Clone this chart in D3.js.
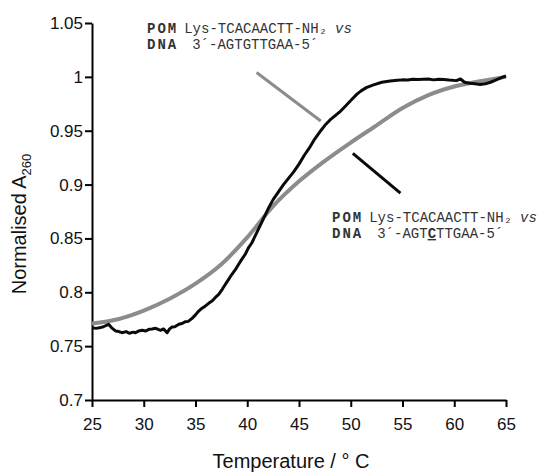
<!DOCTYPE html>
<html>
<head>
<meta charset="utf-8">
<script src="https://cdn.jsdelivr.net/npm/d3@7"></script>
<style>
  body { margin: 0; background: #fff; }
  svg { display: block; }
  .axis path, .axis line { stroke: #000; stroke-width: 2px; }
  .axis text { font-family: Arial, "Liberation Sans", sans-serif; font-size: 17px; fill: #111; }
  .title { font-family: Arial, "Liberation Sans", sans-serif; font-size: 20px; fill: #111; }
  .note { font-family: "Courier New", "Liberation Mono", monospace; font-size: 14px; fill: #333; }
</style>
</head>
<body>
<div id="chart"></div>
<script>
//svg size
var svgWidth = 557;
var svgHeight = 472;

//plot area in pixels
var margin = { top: 23, right: 51, bottom: 72, left: 92 };
var chartWidth = svgWidth - margin.left - margin.right;
var chartHeight = svgHeight - margin.top - margin.bottom;

//tick labels
var xTicks = [25, 30, 35, 40, 45, 50, 55, 60, 65];
var yTicks = [0.7, 0.75, 0.8, 0.85, 0.9, 0.95, 1, 1.05];

//matched duplex (grey, smooth)
var greyTemp = [25, 27.5, 30, 32.5, 35, 37.5, 40, 42.5, 45, 47.5, 50, 52.5, 55, 57.5, 60, 62.5, 65];
var greyAbs  = [0.771, 0.775, 0.783, 0.794, 0.808, 0.826, 0.851, 0.880, 0.903, 0.922, 0.939, 0.955, 0.971, 0.983, 0.991, 0.996, 1.000];

//mismatched duplex (black, noisy)
var blackTemp = [25.0, 25.4, 25.7, 26.1, 26.6, 26.9, 27.3, 27.6, 27.9, 28.3, 28.6, 29.0, 29.2, 29.5, 29.85,
  30.2, 30.5, 30.8, 31.14, 31.4, 31.62, 31.9, 32.26, 32.5, 32.74, 33.0, 33.39, 33.7, 34.03, 34.3, 34.67,
  35.0, 35.31, 35.6, 35.96, 36.3, 36.6, 36.9, 37.24, 37.6, 37.89, 38.2, 38.52, 38.85, 39.17, 39.5, 39.81,
  40.1, 40.45, 41.0, 41.5, 42.1, 42.5, 43.0, 43.5, 44.0, 44.5, 45.0, 45.5, 46.0, 46.5, 47.1, 47.5, 48.0,
  48.5, 49.0, 49.5, 50.0, 50.6, 51.0, 51.5, 52.2, 53.0, 53.8, 54.5, 55.0, 55.5, 56.0, 56.5, 57.0, 57.5,
  58.0, 58.5, 59.0, 59.5, 60.2, 60.6, 61.0, 61.5, 62.0, 62.5, 63.0, 63.5, 64.0, 64.5, 65.0];
var blackAbs = [0.767, 0.7665, 0.767, 0.768, 0.7703, 0.767, 0.764, 0.7635, 0.7625, 0.7635, 0.762, 0.763, 0.7625, 0.764, 0.7647,
  0.764, 0.7656, 0.766, 0.7666, 0.7655, 0.7647, 0.766, 0.7625, 0.766, 0.7678, 0.768, 0.7703, 0.771, 0.7727, 0.773, 0.7758,
  0.779, 0.7826, 0.785, 0.7873, 0.790, 0.7919, 0.795, 0.7981, 0.803, 0.8074, 0.812, 0.8167, 0.821, 0.826, 0.831, 0.8353,
  0.841, 0.846, 0.857, 0.867, 0.879, 0.886, 0.893, 0.900, 0.906, 0.912, 0.919, 0.927, 0.934, 0.942, 0.950, 0.955, 0.960,
  0.964, 0.968, 0.973, 0.978, 0.984, 0.987, 0.990, 0.9925, 0.995, 0.9962, 0.9968, 0.9972, 0.997, 0.9978, 0.9975, 0.9977, 0.998,
  0.9972, 0.9978, 0.9975, 0.997, 0.9965, 0.998, 0.995, 0.994, 0.9935, 0.993, 0.9935, 0.995, 0.997, 0.999, 1.001];

//annotation pointer lines, in data units [t1, a1, t2, a2]
var greyPointer = [40.9, 1.004, 47.1, 0.959];
var blackPointer = [50.2, 0.929, 54.8, 0.892];

var svg = d3.select("#chart")
  .append("svg")
  .attr("width", svgWidth)
  .attr("height", svgHeight);

var chartGroup = svg.append("g").attr("transform", `translate(${margin.left}, ${margin.top})`);

var xScale = d3.scaleLinear().domain([25, 65]).range([0, chartWidth]);
var yScale = d3.scaleLinear().domain([0.7, 1.05]).range([chartHeight, 0]);

//axes
var bottomAxis = d3.axisBottom(xScale).tickValues(xTicks).tickSize(7).tickSizeOuter(0).tickPadding(11).tickFormat(d3.format("d"));
var leftAxis = d3.axisLeft(yScale).tickValues(yTicks).tickSize(7).tickSizeOuter(0).tickPadding(2).tickFormat(d => String(+d.toFixed(2)));

chartGroup.append("g").classed("axis", true)
  .attr("transform", `translate(0, ${chartHeight})`)
  .call(bottomAxis);
chartGroup.append("g").classed("axis", true).call(leftAxis);

//curves
var greyData = greyTemp.map((t, i) => [t, greyAbs[i]]);
var blackData = blackTemp.map((t, i) => [t, blackAbs[i]]);

var smoothLine = d3.line().x(d => xScale(d[0])).y(d => yScale(d[1])).curve(d3.curveMonotoneX);
var rawLine = d3.line().x(d => xScale(d[0])).y(d => yScale(d[1]));

chartGroup.append("path").datum(greyData)
  .attr("d", smoothLine)
  .attr("fill", "none")
  .attr("stroke", "#8c8c8c")
  .attr("stroke-width", 4);

chartGroup.append("path").datum(blackData)
  .attr("d", rawLine)
  .attr("fill", "none")
  .attr("stroke", "#0a0a0a")
  .attr("stroke-width", 3)
  .attr("stroke-linejoin", "round");

//pointer lines
chartGroup.append("line")
  .attr("x1", xScale(greyPointer[0])).attr("y1", yScale(greyPointer[1]))
  .attr("x2", xScale(greyPointer[2])).attr("y2", yScale(greyPointer[3]))
  .attr("stroke", "#8c8c8c").attr("stroke-width", 3);
chartGroup.append("line")
  .attr("x1", xScale(blackPointer[0])).attr("y1", yScale(blackPointer[1]))
  .attr("x2", xScale(blackPointer[2])).attr("y2", yScale(blackPointer[3]))
  .attr("stroke", "#0a0a0a").attr("stroke-width", 3);

//annotation text blocks: two stacked lines
function addNote(x, y, dnaMid, underlineIdx) {
  var t1 = svg.append("text").classed("note", true)
    .attr("x", x).attr("y", y);
  t1.append("tspan").attr("font-weight", "bold").attr("letter-spacing", "2px").text("POM");
  t1.append("tspan").attr("dx", 6).text("Lys-TCACAACTT-NH₂");
  t1.append("tspan").attr("dx", 8).attr("font-style", "italic").text("vs");

  var t2 = svg.append("text").classed("note", true)
    .attr("x", x).attr("y", y + 16);
  t2.append("tspan").attr("font-weight", "bold").attr("letter-spacing", "2px").text("DNA");
  t2.append("tspan").attr("dx", 14).text("3´-" + dnaMid.slice(0, underlineIdx));
  if (underlineIdx < dnaMid.length) {
    t2.append("tspan").attr("text-decoration", "underline").attr("font-weight", "bold").text(dnaMid[underlineIdx]);
    t2.append("tspan").text(dnaMid.slice(underlineIdx + 1) + "-5´");
  } else {
    t2.append("tspan").text("-5´");
  }
}
addNote(147, 33, "AGTGTTGAA", 99);
addNote(332, 222, "AGTCTTGAA", 3);

//axis titles
svg.append("text").classed("title", true)
  .attr("x", margin.left + chartWidth / 2 - 8)
  .attr("y", 468)
  .attr("text-anchor", "middle")
  .text("Temperature / ° C");

var yTitle = svg.append("text").classed("title", true)
  .attr("transform", "translate(26, 224) rotate(-90)")
  .attr("text-anchor", "middle");
yTitle.append("tspan").text("Normalised A");
yTitle.append("tspan").attr("font-size", "13px").attr("dy", 5).text("260");
</script>
</body>
</html>
